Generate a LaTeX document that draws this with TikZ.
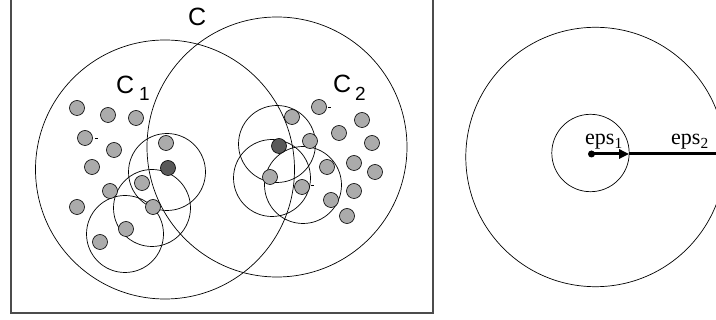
\documentclass[tikz,border=0pt]{standalone}
\usepackage{fontspec}
\setmainfont{Liberation Serif}
\setsansfont{Liberation Sans}
\usetikzlibrary{arrows.meta}

\begin{document}
\begin{tikzpicture}[x=1pt, y=-1pt,
  pt/.style={circle, draw, fill=black!33, minimum size=15pt, inner sep=0pt,
    line width=0.6pt},
  core/.style={pt, fill=black!65},
  ring/.style={line width=0.7pt},
  tick/.style={line width=0.6pt},
  lbl/.style={font=\sffamily\fontsize{25}{25}\selectfont, inner sep=0pt},
  sub/.style={font=\sffamily\fontsize{19}{19}\selectfont, inner sep=0pt},
  eps/.style={font=\fontsize{22}{22}\selectfont, inner sep=0pt},
  arr/.style={-{Triangle[length=10pt, width=9pt]}, line width=3pt},
]
\useasboundingbox (0,0) rectangle (716,320);

% Left panel: frame and the two clusters
\draw[line width=1.2pt, black!70] (11,-5) rectangle (433,313);
\draw[ring] (165,169.5) circle[radius=129.5pt];
\draw[ring] (277,147) circle[radius=130pt];

% Labels
\node (c) [lbl, anchor=base west] at (188,26) {C};
\node (c1) [lbl, anchor=base west] at (116,94) {C};
\node (c1sub) [sub, anchor=base west] at (139,101) {1};
\node (c2) [lbl, anchor=base west] at (333,93) {C};
\node (c2sub) [sub, anchor=base west] at (355,101) {2};

% Neighbourhoods in C1
\draw[ring] (167,172) circle[radius=38.5pt];
\draw[ring] (152,208) circle[radius=38.5pt];
\draw[ring] (125,234) circle[radius=38.5pt];

% Neighbourhoods in C2
\draw[ring] (277,144) circle[radius=38.5pt];
\draw[ring] (272,178) circle[radius=38.5pt];
\draw[ring] (303,185) circle[radius=38.5pt];

% Points of C1
\node (l1) [pt] at (77,108) {};
\node (l2) [pt] at (108,115) {};
\node (l3) [pt] at (136,118) {};
\node (l4) [pt] at (85,138) {};
\node (l5) [pt] at (114,150) {};
\node (l6) [pt] at (92,167) {};
\node (l7) [pt] at (166,143) {};
\node (l8) [core] at (168,168) {};
\node (l9) [pt] at (142,183) {};
\node (l10) [pt] at (110,191) {};
\node (l11) [pt] at (77,207) {};
\node (l12) [pt] at (153,207) {};
\node (l13) [pt] at (126,229) {};
\node (l14) [pt] at (100,242) {};
\draw[tick] (l4.east) ++(2,0) -- ++(3,0);

% Points of C2
\node (r1) [pt] at (319,107) {};
\node (r2) [pt] at (292,117) {};
\node (r3) [pt] at (362,120) {};
\node (r4) [pt] at (339,133) {};
\node (r5) [pt] at (310,141) {};
\node (r6) [pt] at (372,143) {};
\node (r7) [core] at (279,146) {};
\node (r8) [pt] at (354,163) {};
\node (r9) [pt] at (327,167) {};
\node (r10) [pt] at (375,172) {};
\node (r11) [pt] at (270,177) {};
\node (r12) [pt] at (302,187) {};
\node (r13) [pt] at (354,191) {};
\node (r14) [pt] at (331,200) {};
\node (r15) [pt] at (347,216) {};
\draw[tick] (r1.east) ++(1,0) -- ++(3,0);
\draw[tick] (r12.east) ++(1,-2) -- ++(3,0);

% Right panel: eps_1 and eps_2
\draw[ring] (595.5,157) circle[radius=129.7pt];
\draw[ring] (590.5,153) circle[radius=38.7pt];
\node (ctr) [circle, fill=black, minimum size=7pt, inner sep=0pt] at (591.5,154) {};
\coordinate (e1) at (629.2,154);
\coordinate (e2) at (725,154);
\draw[arr] (ctr.center) -- (e1);
\draw[line width=3pt] (e1) -- (e2);
\node (eps1) [eps, anchor=base west] at (585,145) {eps\textsubscript{1}};
\node (eps2) [eps, anchor=base west] at (671,145) {eps\textsubscript{2}};

\end{tikzpicture}
\end{document}
